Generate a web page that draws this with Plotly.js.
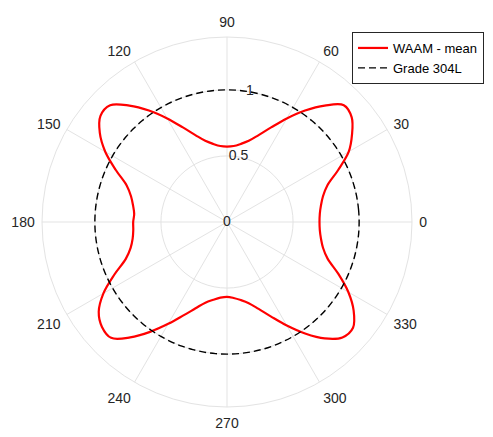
<!DOCTYPE html>
<html>
<head>
<meta charset="utf-8">
<script src="https://cdn.plot.ly/plotly-3.0.1.min.js"></script>
<style>html,body{margin:0;padding:0;background:#fff;}#chart{width:493px;height:437px;}</style>
</head>
<body>
<div id="chart"></div>
<script>
// Angles (degrees)
const thetaDeg = [
  0, 5, 10, 15, 20, 25, 30, 35, 40, 45, 50, 55, 60, 65, 70, 75, 80, 85,
  90, 95, 100, 105, 110, 115, 120, 125, 130, 135, 140, 145, 150, 155, 160, 165, 170, 175,
  180, 185, 190, 195, 200, 205, 210, 215, 220, 225, 230, 235, 240, 245, 250, 255, 260, 265,
  270, 275, 280, 285, 290, 295, 300, 305, 310, 315, 320, 325, 330, 335, 340, 345, 350, 355,
  360
];
// WAAM - mean
const waamMean = [
  0.700, 0.705, 0.722, 0.752, 0.808, 0.927, 1.064, 1.155, 1.232, 1.250, 1.150, 1.030, 0.905, 0.790, 0.700, 0.636, 0.600, 0.577,
  0.571, 0.577, 0.600, 0.636, 0.700, 0.790, 0.905, 1.030, 1.150, 1.250, 1.250, 1.175, 1.064, 0.927, 0.808, 0.752, 0.722, 0.705,
  0.710, 0.712, 0.725, 0.755, 0.815, 0.940, 1.080, 1.185, 1.235, 1.240, 1.140, 1.015, 0.890, 0.780, 0.695, 0.632, 0.598, 0.575,
  0.566, 0.577, 0.600, 0.636, 0.700, 0.790, 0.905, 1.030, 1.150, 1.235, 1.245, 1.170, 1.060, 0.930, 0.810, 0.752, 0.722, 0.705,
  0.700
];
// Grade 304L reference (constant)
const grade304LValue = 1;
const grade304L = thetaDeg.map(() => grade304LValue);

// Radial tick labels
const rTickVals = [0, 0.5, 1];
const rTickText = ['0', '0.5', '1'];
const rTickAngle = 80;

// Angular ticks
const angTickVals = [0, 30, 60, 90, 120, 150, 180, 210, 240, 270, 300, 330];
const angTickText = ['0', '30', '60', '90', '120', '150', '180', '210', '240', '270', '300', '330'];

const FONT = 'Arial, "Liberation Sans", Helvetica, sans-serif';
const TXT = '#262626';
const GRID = '#e3e3e3';

const traces = [
  {
    type: 'scatterpolar', mode: 'lines', name: 'WAAM - mean',
    r: waamMean, theta: thetaDeg,
    line: {color: '#ff0000', width: 2.2, shape: 'spline', smoothing: 1},
    hoverinfo: 'skip'
  },
  {
    type: 'scatterpolar', mode: 'lines', name: 'Grade 304L',
    r: grade304L, theta: thetaDeg,
    line: {color: '#000000', width: 1.4, dash: '7px,4px', shape: 'spline'},
    hoverinfo: 'skip'
  },
  {
    type: 'scatterpolar', mode: 'text', showlegend: false,
    r: rTickVals, theta: rTickVals.map(() => rTickAngle), text: rTickText,
    textposition: 'middle center',
    textfont: {family: FONT, size: 14, color: TXT},
    hoverinfo: 'skip'
  }
];

const layout = {
  width: 493, height: 437,
  margin: {l: 0, r: 0, t: 0, b: 0},
  paper_bgcolor: '#ffffff',
  font: {family: FONT, size: 14, color: TXT},
  showlegend: true,
  legend: {
    x: 352/493, y: 1 - 32/437, xanchor: 'left', yanchor: 'top',
    bgcolor: '#ffffff', bordercolor: '#262626', borderwidth: 1,
    font: {family: FONT, size: 13, color: '#000000'},
    tracegroupgap: 0
  },
  polar: {
    domain: {x: [42/493, 412/493], y: [30/437, 400/437]},
    bgcolor: '#ffffff',
    radialaxis: {
      range: [0, 1.4], tickvals: rTickVals, showticklabels: false,
      ticks: '', showline: false, gridcolor: GRID, gridwidth: 1, angle: rTickAngle
    },
    angularaxis: {
      direction: 'counterclockwise', rotation: 0,
      tickmode: 'array', tickvals: angTickVals, ticktext: angTickText,
      ticks: 'outside', ticklen: 4, tickcolor: 'rgba(0,0,0,0)',
      showline: true, linecolor: GRID, linewidth: 1,
      gridcolor: GRID, gridwidth: 1,
      tickfont: {family: FONT, size: 14, color: TXT}
    }
  }
};

Plotly.newPlot('chart', traces, layout, {displayModeBar: false, staticPlot: true});
</script>
</body>
</html>
